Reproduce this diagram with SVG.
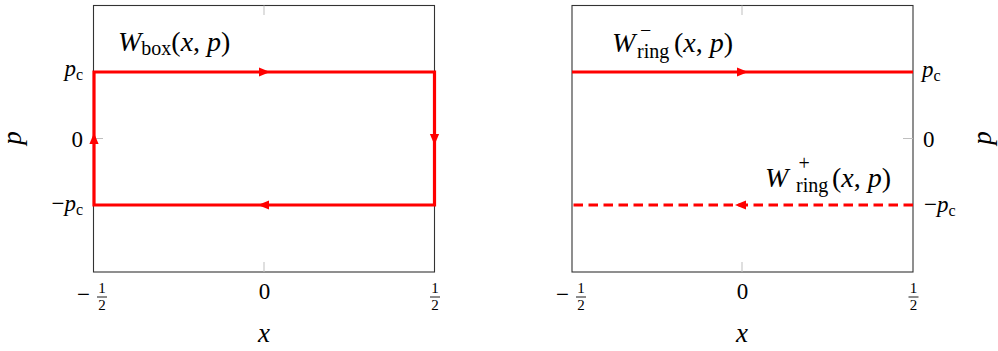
<svg xmlns="http://www.w3.org/2000/svg" width="998" height="351" viewBox="0 0 998 351">
<defs>
<style>
.frame{fill:none;stroke:#333333;stroke-width:1.1}
.tick{stroke:#bfbfbf;stroke-width:1}
.red{fill:none;stroke:#ff0000;stroke-width:3.2;stroke-linejoin:miter}
.bar{stroke:#000000;stroke-width:0.9}
</style>
<path id="ah" d="M6,0 L-5,-4.6 L-5,4.6 Z" fill="#ff0000"/>
</defs>
<rect x="0" y="0" width="998" height="351" fill="#ffffff"/>

<g id="left-plot">
  <g id="left-axes">
    <rect class="frame" x="93.5" y="5.5" width="341" height="266.5"/>
    <line class="tick" x1="264" y1="5.5" x2="264" y2="15"/>
    <line class="tick" x1="264" y1="262" x2="264" y2="272"/>
    <line class="tick" x1="93.5" y1="138.5" x2="103" y2="138.5"/>
  </g>
  <g id="left-yticks">
    <text font-family="Liberation Serif" font-size="23" x="83" y="76" text-anchor="end"><tspan font-style="italic">p</tspan><tspan font-size="16" dy="4">c</tspan></text>
    <text font-family="Liberation Serif" font-size="23" x="83" y="147" text-anchor="end">0</text>
    <text font-family="Liberation Serif" font-size="23" x="83" y="211" text-anchor="end">&#8722;<tspan font-style="italic">p</tspan><tspan font-size="16" dy="4">c</tspan></text>
  </g>
  <g id="left-xticks">
    <text font-family="Liberation Serif" font-size="23" x="77" y="302">&#8722;</text>
    <text font-family="Liberation Serif" font-size="15" x="102" y="293" text-anchor="middle">1</text>
    <line class="bar" x1="97" y1="297" x2="107" y2="297"/>
    <text font-family="Liberation Serif" font-size="15" x="102" y="310" text-anchor="middle">2</text>
    <text font-family="Liberation Serif" font-size="23" x="264.5" y="299" text-anchor="middle">0</text>
    <text font-family="Liberation Serif" font-size="15" x="435" y="293" text-anchor="middle">1</text>
    <line class="bar" x1="430" y1="297" x2="440" y2="297"/>
    <text font-family="Liberation Serif" font-size="15" x="435" y="310" text-anchor="middle">2</text>
  </g>
  <text font-family="Liberation Serif" font-size="27" font-style="italic" x="264" y="342" text-anchor="middle">x</text>
  <text font-family="Liberation Serif" font-size="27" font-style="italic" transform="translate(21,138) rotate(-90)" text-anchor="middle">p</text>
  <g id="label-wbox">
    <text font-family="Liberation Serif" font-size="28" x="118" y="51"><tspan font-style="italic">W</tspan><tspan font-size="20" dy="4">box</tspan><tspan dy="-4">(</tspan><tspan font-style="italic">x</tspan>, <tspan font-style="italic">p</tspan>)</text>
  </g>
</g>

<g id="right-plot">
  <g id="right-axes">
    <rect class="frame" x="572" y="5.5" width="341" height="266.5"/>
    <line class="tick" x1="742" y1="5.5" x2="742" y2="15"/>
    <line class="tick" x1="742" y1="262" x2="742" y2="272"/>
    <line class="tick" x1="903" y1="138.5" x2="913" y2="138.5"/>
  </g>
  <g id="right-yticks">
    <text font-family="Liberation Serif" font-size="23" x="922" y="77"><tspan font-style="italic">p</tspan><tspan font-size="16" dy="4">c</tspan></text>
    <text font-family="Liberation Serif" font-size="23" x="923" y="147">0</text>
    <text font-family="Liberation Serif" font-size="23" x="924" y="212">&#8722;<tspan font-style="italic">p</tspan><tspan font-size="16" dy="4">c</tspan></text>
  </g>
  <g id="right-xticks">
    <text font-family="Liberation Serif" font-size="23" x="556" y="302">&#8722;</text>
    <text font-family="Liberation Serif" font-size="15" x="581" y="293" text-anchor="middle">1</text>
    <line class="bar" x1="576" y1="297" x2="586" y2="297"/>
    <text font-family="Liberation Serif" font-size="15" x="581" y="310" text-anchor="middle">2</text>
    <text font-family="Liberation Serif" font-size="23" x="742.5" y="299" text-anchor="middle">0</text>
    <text font-family="Liberation Serif" font-size="15" x="913.5" y="293" text-anchor="middle">1</text>
    <line class="bar" x1="908.5" y1="297" x2="918.5" y2="297"/>
    <text font-family="Liberation Serif" font-size="15" x="913.5" y="310" text-anchor="middle">2</text>
  </g>
  <text font-family="Liberation Serif" font-size="27" font-style="italic" x="742" y="342" text-anchor="middle">x</text>
  <text font-family="Liberation Serif" font-size="27" font-style="italic" transform="translate(991,138) rotate(-90)" text-anchor="middle">p</text>
  <g id="label-wring-minus">
    <text font-family="Liberation Serif" font-size="28" x="612" y="52"><tspan font-style="italic">W</tspan><tspan font-size="20" x="640" y="37">&#8722;</tspan><tspan font-size="20" x="637" y="58">ring</tspan><tspan x="674" y="52">(</tspan><tspan font-style="italic">x</tspan>, <tspan font-style="italic">p</tspan>)</text>
  </g>
  <g id="label-wring-plus">
    <text font-family="Liberation Serif" font-size="28" x="765" y="187"><tspan font-style="italic">W</tspan><tspan font-size="20" x="798.5" y="170">+</tspan><tspan font-size="20" x="796" y="192">ring</tspan><tspan x="832" y="187">(</tspan><tspan font-style="italic">x</tspan>, <tspan font-style="italic">p</tspan>)</text>
  </g>
</g>

<g id="connectors">
  <path id="box-path" class="red" d="M94,205 L94,72 L434.5,72 L434.5,205 Z"/>
  <path id="ring-minus" class="red" d="M572,72 L913,72"/>
  <path id="ring-plus" class="red" d="M913,205 L573,205" stroke-dasharray="9.5 5.5"/>
  <use href="#ah" transform="translate(264,72)"/>
  <use href="#ah" transform="translate(434.5,139) rotate(90)"/>
  <use href="#ah" transform="translate(264,205) rotate(180)"/>
  <use href="#ah" transform="translate(94,139) rotate(-90)"/>
  <use href="#ah" transform="translate(742,72)"/>
  <use href="#ah" transform="translate(741,205) rotate(180)"/>
</g>
</svg>
